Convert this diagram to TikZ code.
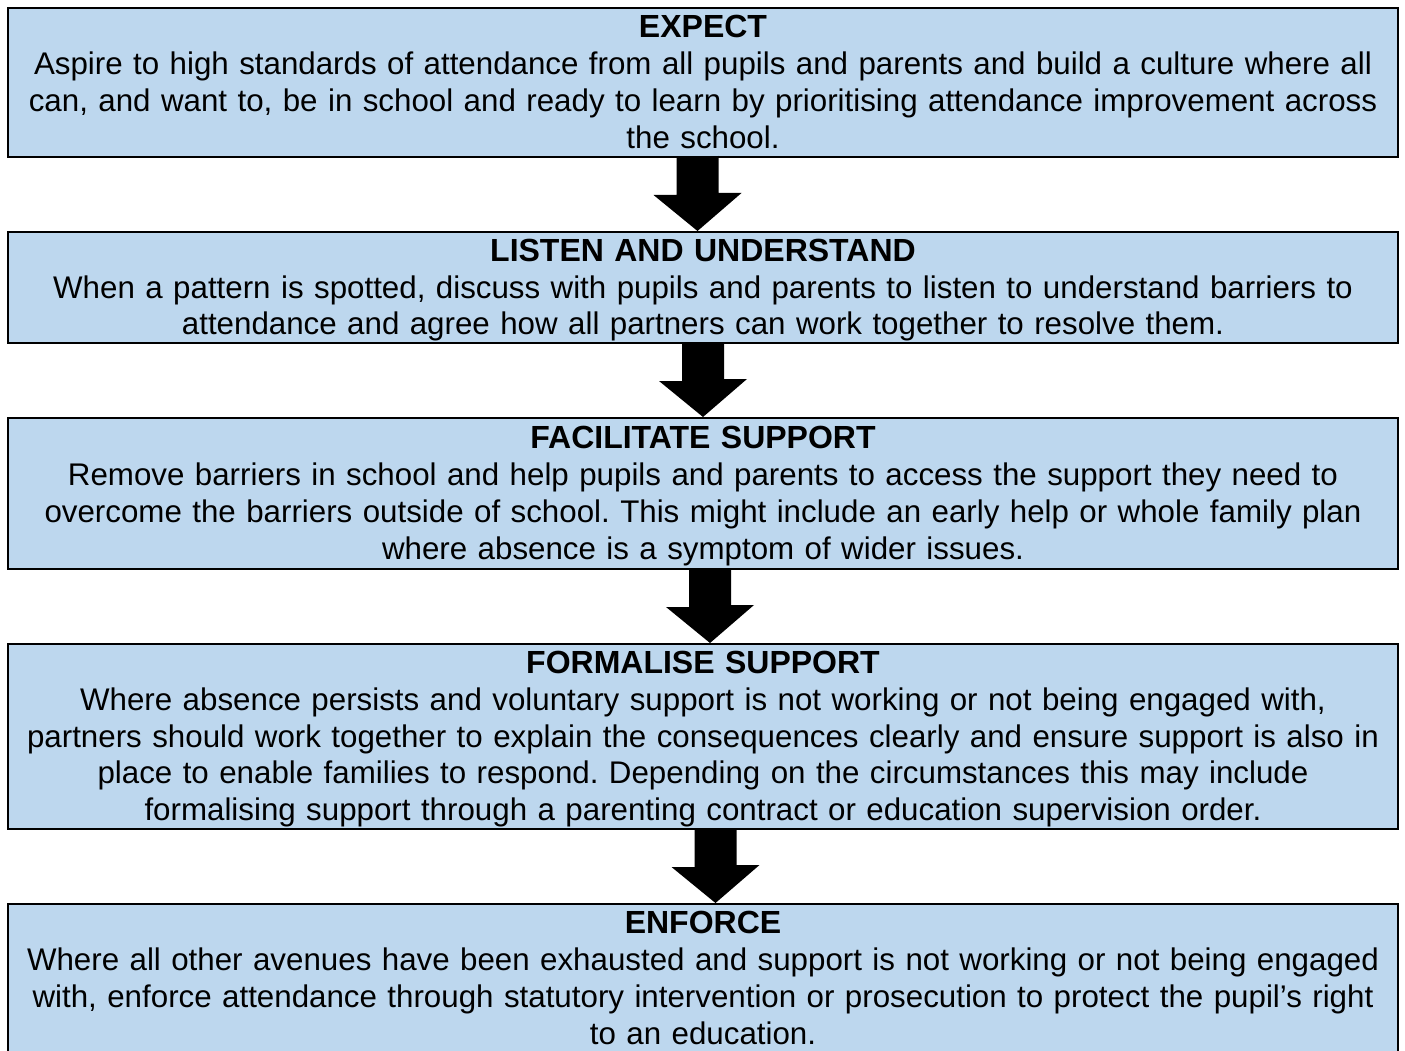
\documentclass[tikz,border=0pt]{standalone}
\usepackage{fontspec}
\setmainfont{Liberation Sans}
\usetikzlibrary{calc}
\definecolor{boxblue}{RGB}{189,215,238}
\newcommand\mystrut{\rule[-7.8pt]{0pt}{36.8pt}}
\newcommand\stagetitle[1]{{\fontsize{32}{36.8}\selectfont\bfseries #1}}
\tikzset{
  stagebox/.style={draw=black, line width=2pt, fill=boxblue, rectangle, inner sep=0pt,
    minimum width=1390pt, align=center, text width=1386pt,
    font=\fontsize{31.3}{36.8}\selectfont\frenchspacing},
  blockarr/.style={fill=black}
}
\newcommand\blockarrow[3]{% from node, to node, x offset
  \fill[blockarr] ($(#1.south)+(#3,0)$) ++(-21,0) -- ++(0,37) -- ++(-23,0)
    -- ($(#2.north)+(#3,0)$) -- ++(44,-38) -- ++(-23,0) -- ++(0,-37) -- cycle;}
\begin{document}
\begin{tikzpicture}[x=1pt,y=-1pt]
\useasboundingbox (0,0) rectangle (1405,1051);
\clip (0,0) rectangle (1405,1051);
\node[stagebox, minimum height=149pt] (b1) at (703,82.5) {\mystrut\stagetitle{EXPECT}\\
\mystrut Aspire to high standards of attendance from all pupils and parents and build a culture where all\\
\mystrut can, and want to, be in school and ready to learn by prioritising attendance improvement across\\
\mystrut the school.};
\node[stagebox, minimum height=111pt] (b2) at (703,287.5) {\mystrut\stagetitle{LISTEN AND UNDERSTAND}\\
\mystrut When a pattern is spotted, discuss with pupils and parents to listen to understand barriers to\\
\mystrut attendance and agree how all partners can work together to resolve them.};
\node[stagebox, minimum height=151pt] (b3) at (703,493.5) {\mystrut\stagetitle{FACILITATE SUPPORT}\\
\mystrut Remove barriers in school and help pupils and parents to access the support they need to\\
\mystrut overcome the barriers outside of school. This might include an early help or whole family plan\\
\mystrut where absence is a symptom of wider issues.};
\node[stagebox, minimum height=185pt] (b4) at (703,736.5) {\mystrut\stagetitle{FORMALISE SUPPORT}\\
\mystrut Where absence persists and voluntary support is not working or not being engaged with,\\
\mystrut partners should work together to explain the consequences clearly and ensure support is also in\\
\mystrut place to enable families to respond. Depending on the circumstances this may include\\
\mystrut formalising support through a parenting contract or education supervision order.};
\node[stagebox, minimum height=149pt] (b5) at (703,978.5) {\mystrut\stagetitle{ENFORCE}\\
\mystrut Where all other avenues have been exhausted and support is not working or not being engaged\\
\mystrut with, enforce attendance through statutory intervention or prosecution to protect the pupil’s right\\
\mystrut to an education.};
\blockarrow{b1}{b2}{-5.5}
\blockarrow{b2}{b3}{0}
\blockarrow{b3}{b4}{7}
\blockarrow{b4}{b5}{12.5}
\end{tikzpicture}
\end{document}
